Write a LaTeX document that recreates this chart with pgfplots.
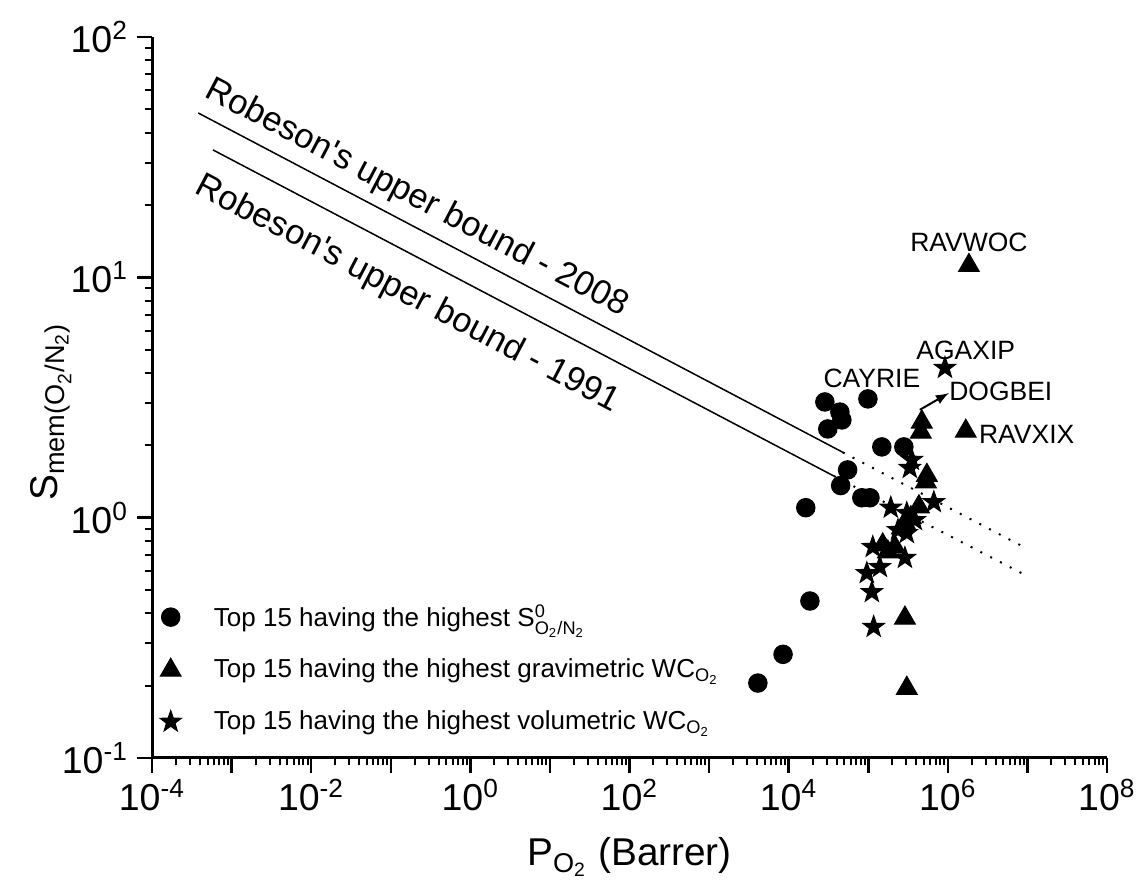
\documentclass[border=0pt]{standalone}
\usepackage{fontspec}
\setmainfont{Liberation Sans}
\newfontfamily\plainsans{Liberation Sans}[Ligatures=TeXOff]
\usepackage{amsmath}
\usepackage{pgfplots}
\usepackage{pgfplotstable}
\pgfplotsset{compat=1.18}

% filled five-pointed star
\pgfdeclareplotmark{fstar}{%
  \pgfpathmoveto{\pgfpointpolar{90}{\pgfplotmarksize}}%
  \pgfpathlineto{\pgfpointpolar{126}{0.40\pgfplotmarksize}}%
  \pgfpathlineto{\pgfpointpolar{162}{\pgfplotmarksize}}%
  \pgfpathlineto{\pgfpointpolar{198}{0.40\pgfplotmarksize}}%
  \pgfpathlineto{\pgfpointpolar{234}{\pgfplotmarksize}}%
  \pgfpathlineto{\pgfpointpolar{270}{0.40\pgfplotmarksize}}%
  \pgfpathlineto{\pgfpointpolar{306}{\pgfplotmarksize}}%
  \pgfpathlineto{\pgfpointpolar{342}{0.40\pgfplotmarksize}}%
  \pgfpathlineto{\pgfpointpolar{18}{\pgfplotmarksize}}%
  \pgfpathlineto{\pgfpointpolar{54}{0.40\pgfplotmarksize}}%
  \pgfpathclose
  \pgfusepathqfillstroke
}

% top 15 by selectivity
\pgfplotstableread{
x y
2.85e4 3.03
9.9e4 3.12
4.4e4 2.75
4.66e4 2.55
3.1e4 2.34
1.48e5 1.97
2.8e5 1.97
5.5e4 1.58
4.5e4 1.36
8.3e4 1.21
1.05e5 1.21
1.64e4 1.10
1.85e4 0.45
8.5e3 0.27
4.1e3 0.205
}\selec

% top 15 by gravimetric WC
\pgfplotstableread{
x y
1.84e6 11.2
1.68e6 2.29
4.71e5 2.50
4.58e5 2.27
5.45e5 1.50
5.3e5 1.41
4.33e5 1.11
3.43e5 1.00
2.89e5 0.95
2.64e5 0.906
1.52e5 0.77
2.16e5 0.755
1.76e5 0.72
2.89e5 0.382
3.05e5 0.195
}\grav

% top 15 by volumetric WC
\pgfplotstableread{
x y
9.2e5 4.2
3.53e5 1.74
3.33e5 1.61
6.67e5 1.16
1.92e5 1.10
3.05e5 1.045
3.85e5 0.977
2.36e5 0.888
3.05e5 0.863
1.14e5 0.755
2.89e5 0.68
1.40e5 0.623
9.6e4 0.588
1.11e5 0.49
1.17e5 0.351
}\volu

\begin{document}
\begin{tikzpicture}
\begin{axis}[
  xmode=log, ymode=log,
  scale only axis, width=382pt, height=288.4pt,
  xmin=1e-4, xmax=1e8, ymin=0.1, ymax=100,
  axis x line*=bottom, axis y line*=left,
  axis line style={line width=1.2pt},
  tick align=outside,
  major tick length=6pt, minor tick length=3pt,
  every major tick/.style={black, line width=1pt},
  every minor tick/.style={black, line width=0.8pt},
  xtick={1e-4,1e-3,1e-2,1e-1,1,1e1,1e2,1e3,1e4,1e5,1e6,1e7,1e8},
  xticklabels={10\textsuperscript{-4},,10\textsuperscript{-2},,10\textsuperscript{0},,10\textsuperscript{2},,10\textsuperscript{4},,10\textsuperscript{6},,10\textsuperscript{8}},
  ytick={0.1,1,10,100},
  yticklabels={10\textsuperscript{-1},10\textsuperscript{0},10\textsuperscript{1},10\textsuperscript{2}},
  ticklabel style={font=\fontsize{15}{18}\selectfont},
  xticklabel style={yshift=1pt},
  xlabel={P$_{\text{O}_{\text{2}}}$ (Barrer)},
  ylabel={S$_{\text{mem(O}_{\text{2}}\text{/N}_{\text{2}}\text{)}}$},
  label style={font=\fontsize{15.5}{18}\selectfont},
  xlabel style={at={(axis description cs:0.5,-0.137)}, anchor=center},
  ylabel style={at={(axis description cs:-0.106,0.48)}, anchor=center},
  clip=false,
  legend style={draw=none, fill=none, at={(axis description cs:0.0,0.02)}, anchor=south west,
    font=\fontsize{10.4}{12.5}\selectfont, row sep=7.6pt, column sep=11pt},
  legend cell align=left,
]
\addplot[black, line width=0.6pt, forget plot] coordinates {(3.8e-4,48.3) (4.8e4,1.87)};
\addplot[black, line width=0.8pt, dash pattern=on 0.8pt off 3.6pt, forget plot] coordinates {(4.8e4,1.87) (9.5e6,0.748)};
\addplot[black, line width=0.6pt, forget plot] coordinates {(5.83e-4,33.9) (3.7e4,1.49)};
\addplot[black, line width=0.8pt, dash pattern=on 0.8pt off 3.6pt, forget plot] coordinates {(3.7e4,1.49) (1e7,0.571)};

\addplot[only marks, mark=*, mark size=3.7pt, black] table {\selec};
\addlegendentry{Top 15 having the highest S$^{\text{0}}_{\text{O}_{\text{2}}\text{/N}_{\text{2}}}$}
\addplot[only marks, mark=triangle*, mark size=4.8pt, black] table {\grav};
\addlegendentry{Top 15 having the highest gravimetric WC$_{\text{O}_{\text{2}}}$}
\addplot[only marks, mark=fstar, mark size=4.5pt, black] table {\volu};
\addlegendentry{Top 15 having the highest volumetric WC$_{\text{O}_{\text{2}}}$}

\node[rotate=-27.7, font=\plainsans\fontsize{13.8}{16}\selectfont] at (axis cs:0.21,21.3) {Robeson's upper bound - 2008};
\node[rotate=-27.7, font=\plainsans\fontsize{13.8}{16}\selectfont] at (axis cs:0.161,8.48) {Robeson's upper bound - 1991};

\node[font=\fontsize{10.6}{13}\selectfont] at (axis cs:1.84e6,14.0) {RAVWOC};
\node[font=\fontsize{10.6}{13}\selectfont] at (axis cs:1.68e6,4.98) {AGAXIP};
\node[font=\fontsize{10.6}{13}\selectfont] at (axis cs:1.11e5,3.81) {CAYRIE};
\node[font=\fontsize{10.6}{13}\selectfont] at (axis cs:4.63e6,3.34) {DOGBEI};
\node[font=\fontsize{10.6}{13}\selectfont] at (axis cs:9.8e6,2.23) {RAVXIX};
\draw[-latex, line width=0.8pt] (axis cs:4.45e5,2.81) -- (axis cs:1.03e6,3.30);

\coordinate (bl) at (axis description cs:-0.1592,-0.1706);
\coordinate (tr) at (axis description cs:1.0314,1.0513);
\end{axis}
\pgfresetboundingbox
\path (bl) rectangle (tr);
\end{tikzpicture}
\end{document}
